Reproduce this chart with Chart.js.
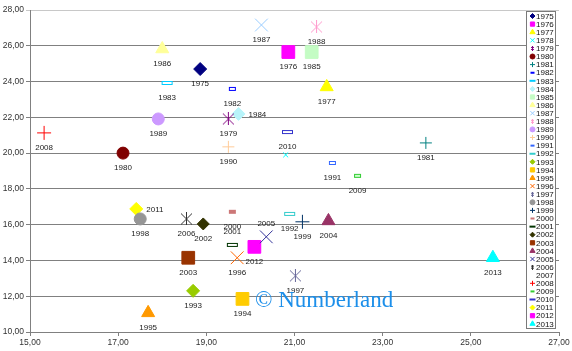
<!DOCTYPE html>
<html>
<head>
<meta charset="utf-8">
<script src="https://cdn.jsdelivr.net/npm/chart.js@4/dist/chart.umd.min.js"></script>
<style>
html,body{margin:0;padding:0;background:#fff;}
#wrap{position:relative;width:572px;height:351px;}
</style>
</head>
<body>
<div id="wrap"><canvas id="c" width="572" height="351"></canvas></div>
<script>
// ---- data ----
const years = [1975,1976,1977,1978,1979,1980,1981,1982,1983,1984,1985,1986,1987,1988,1989,1990,1991,1992,1993,1994,1995,1996,1997,1998,1999,2000,2001,2002,2003,2004,2005,2006,2007,2008,2009,2010,2011,2012,2013];
const xValues = [18.86,20.86,21.73,20.80,19.50,17.11,23.98,19.59,18.11,19.73,21.39,18.00,20.25,21.50,17.91,19.50,21.86,20.89,18.70,19.82,17.68,19.70,21.02,17.50,21.18,19.59,19.59,18.93,18.59,21.77,20.36,18.55,null,15.32,22.43,20.84,17.41,20.09,25.50];
const yValues = [24.70,25.65,23.70,19.90,21.91,20.00,20.57,23.59,23.92,22.19,25.65,25.82,27.16,27.05,21.91,20.35,19.45,16.60,12.30,11.85,11.07,14.15,13.14,16.32,16.16,16.72,14.87,16.04,14.15,16.21,15.32,16.32,null,21.13,18.73,21.18,16.88,14.76,14.15];
const xTicks = [15,17,19,21,23,25,27];
const yTicks = [10,12,14,16,18,20,22,24,26,28];

// ---- styles ----
const colors = ['#000080','#FF00FF','#FFFF00','#00FFFF','#800080','#800000','#008080','#0000FF','#00CCFF','#B8F4FA',
  '#C4FCC4','#FFFF99','#99CCFF','#FF99CC','#CC99FF','#FFCC99','#3366FF','#33CCCC','#99CC00','#FFCC00',
  '#FF9900','#FF6600','#666699','#969696','#003366','#CC7777','#003300','#333300','#993300','#993366',
  '#333399','#333333','#FFFFFF','#FF0000','#33CC33','#3333CC','#FFFF00','#FF00FF','#00FFFF'];
const shapeCycle = ['diamond','square','triangle','x','star','circle','plus','dashS','dashL'];
const labelPlace = {1978:'none',1984:'right',2011:'right',2005:'above',2001:'above',2007:'none'};

function makeImg(w,h,draw){const c=document.createElement('canvas');c.width=w;c.height=h;draw(c.getContext('2d'),w,h);return c;}
function starImg(color,s){return makeImg(s,s,(g)=>{g.strokeStyle=color;g.lineWidth=1;g.beginPath();
  g.moveTo(1,1);g.lineTo(s-1,s-1);g.moveTo(s-1,1);g.lineTo(1,s-1);g.moveTo(s/2,0);g.lineTo(s/2,s);g.stroke();});}
function dashImg(stroke,fill,w,h){return makeImg(w+2,h+2,(g)=>{g.fillStyle=fill;g.fillRect(1,1,w,h);
  g.strokeStyle=stroke;g.lineWidth=1;g.strokeRect(1.5,1.5,w-1,h-1);});}

function markerFor(i, legend){
  const shape = shapeCycle[i % 9];
  const col = colors[i];
  const y = years[i];
  let style, radius;
  switch(shape){
    case 'diamond': style='rectRot'; radius = legend?2.5:(y===2002?6:6.5); break;
    case 'square': style='rect'; radius = legend?3:9; break;
    case 'triangle': style='triangle'; radius = legend?3:7.5; break;
    case 'x': style='crossRot'; radius = legend?3:(y===1978?3.5:9); break;
    case 'star': style = starImg(col, legend?5:13); radius = legend?2.5:6; break;
    case 'circle': style='circle'; radius = legend?2.5:6; break;
    case 'plus': style='cross'; radius = legend?2.5:(y===1981||y===1990?6:7); break;
    case 'dashS': {
      const fill = y===2000 ? col : (y===2009 ? '#CCFFCC' : '#FFFFFF');
      style = legend ? dashImg(col, fill, 4, 2) : dashImg(col, fill, 7, 4); radius = 4; break; }
    case 'dashL': {
      const fill = '#FFFFFF';
      style = legend ? dashImg(col, fill, 6, 2) : dashImg(col, fill, 11, 4); radius = 5; break; }
  }
  return {style, radius, col};
}

const datasets = years.map((yr,i)=>{
  const m = markerFor(i,false);
  const lm = markerFor(i,true);
  const hasPoint = xValues[i] !== null && yValues[i] !== null;
  return {
    label: String(yr),
    data: hasPoint ? [{x:xValues[i], y:yValues[i]}] : [],
    pointStyle: m.style,
    pointRadius: m.radius,
    pointHoverRadius: m.radius,
    backgroundColor: m.col,
    borderColor: m.col,
    borderWidth: 1,
    showLine: false,
    _legend: lm,
    _hasPoint: hasPoint
  };
});

const fmt = v => Number(v).toFixed(2).replace('.', ',');

const labelsPlugin = {
  id:'yearLabels',
  afterDatasetsDraw(chart){
    const ctx = chart.ctx;
    ctx.save();
    ctx.font = '8px "Liberation Sans", Arial, sans-serif';
    ctx.fillStyle = '#222';
    ctx.textBaseline = 'middle';
    chart.data.datasets.forEach((ds,i)=>{
      const place = labelPlace[years[i]] || 'below';
      if (place==='none' || !ds._hasPoint) return;
      const el = chart.getDatasetMeta(i).data[0];
      if (!el) return;
      if (place==='right'){ ctx.textAlign='left'; ctx.fillText(ds.label, el.x+10, el.y+1); }
      else if (place==='above'){ ctx.textAlign='center'; ctx.fillText(ds.label, el.x, el.y-13); }
      else { ctx.textAlign='center'; ctx.fillText(ds.label, el.x, el.y+15); }
    });
    ctx.restore();
  }
};

const legendPlugin = {
  id:'boxLegend',
  afterDraw(chart){
    const ctx = chart.ctx;
    const x0 = 526, y0 = 11, w = 29, h = 317;
    ctx.save();
    ctx.fillStyle = '#fff';
    ctx.fillRect(x0, y0, w, h);
    ctx.strokeStyle = '#7a7a7a';
    ctx.lineWidth = 1;
    ctx.strokeRect(x0+0.5, y0+0.5, w, h);
    chart.data.datasets.forEach((ds,i)=>{
      const cy = 16 + i*8.1;
      const lm = ds._legend;
      if (years[i] !== 2007){
        ctx.fillStyle = lm.col; ctx.strokeStyle = lm.col; ctx.lineWidth = 1;
        Chart.helpers.drawPoint(ctx, {pointStyle: lm.style, radius: lm.radius, rotation: 0, borderWidth: 1}, 532.5, cy);
      }
      ctx.fillStyle = '#111';
      ctx.font = '8px "Liberation Sans", Arial, sans-serif';
      ctx.textAlign = 'left';
      ctx.textBaseline = 'middle';
      ctx.fillText(ds.label, 536, cy+0.5);
    });
    // watermark
    ctx.font = '23px "Liberation Serif", "Times New Roman", serif';
    ctx.fillStyle = '#1C8FEA';
    ctx.textAlign = 'left';
    ctx.textBaseline = 'alphabetic';
    ctx.fillText('\u00A9 Numberland', 255, 307);
    ctx.restore();
  }
};

new Chart(document.getElementById('c'), {
  type: 'scatter',
  data: { datasets },
  options: {
    responsive: false,
    animation: false,
    events: [],
    layout: { padding: { left: 0, right: 13, top: 10, bottom: 0 } },
    plugins: { legend: { display: false }, tooltip: { enabled: false } },
    scales: {
      x: {
        type: 'linear', min: 15, max: 27,
        afterBuildTicks: s => { s.ticks = xTicks.map(v=>({value:v})); },
        ticks: { callback: fmt, font: { size: 8.5, family: '"Liberation Sans", Arial, sans-serif' }, color: '#333', padding: 2, maxRotation: 0, autoSkip: false },
        grid: { drawOnChartArea: false, drawTicks: true, tickLength: 4, color: '#808080' },
        border: { color: '#808080', width: 1 },
        afterFit: s => { s.height = 19; }
      },
      y: {
        type: 'linear', min: 10, max: 28,
        afterBuildTicks: s => { s.ticks = yTicks.map(v=>({value:v})); },
        ticks: { callback: fmt, font: { size: 8.5, family: '"Liberation Sans", Arial, sans-serif' }, color: '#333', padding: 2, autoSkip: false },
        grid: { color: c => (c.tick && c.tick.value === 28) ? '#c8c8c8' : '#808080', tickLength: 4, lineWidth: 1 },
        border: { color: '#808080', width: 1 },
        afterFit: s => { s.width = 30; }
      }
    }
  },
  plugins: [labelsPlugin, legendPlugin]
});
</script>
</body>
</html>
